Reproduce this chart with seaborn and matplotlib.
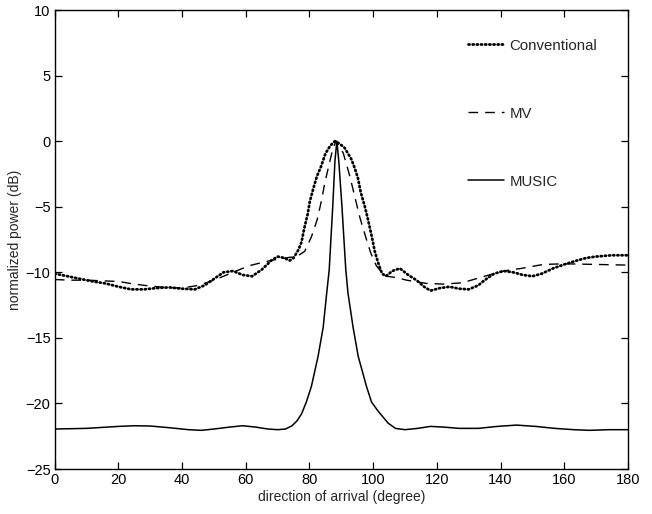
import numpy as np
import pandas as pd
import matplotlib
matplotlib.use("Agg")
import matplotlib.pyplot as plt
import seaborn as sns

# ---- data ----
conv_x = [0, 4, 8, 12, 16, 20, 24, 28, 32, 36, 40, 44, 47, 50, 53, 56, 59, 62, 65, 68, 70, 72,
          73.8, 75, 76.5, 77.5, 78.3, 79.4, 80.1, 81.1, 82.3, 83.6, 85, 86.5, 88, 89.5, 91, 92,
          93.2, 94.2, 95.2, 96.1, 97.4, 98.4, 99.5, 100.5, 101.6, 102.8, 104, 106, 108.4, 111,
          113.6, 116, 118, 121, 124, 127, 130, 133, 135, 138, 141, 144, 147, 150, 153, 156.5,
          160, 164, 167, 170, 175, 180]
conv_y = [-10.1, -10.3, -10.5, -10.7, -10.85, -11.1, -11.3, -11.3, -11.2, -11.15, -11.25, -11.3,
          -11.0, -10.5, -10.0, -9.9, -10.2, -10.3, -9.8, -9.1, -8.8, -8.9,
          -9.1, -8.9, -8.3, -7.7, -6.7, -5.6, -4.6, -3.7, -2.7, -1.95, -0.95, -0.35, 0.0, -0.2,
          -0.5, -0.9, -1.4, -2.05, -2.8, -3.9, -5.0, -6.0, -7.2, -8.4, -9.3, -10.1, -10.3, -9.9,
          -9.7, -10.2, -10.6, -11.1, -11.4, -11.2, -11.1, -11.25, -11.3, -11.0, -10.6, -10.1,
          -9.9, -10.0, -10.2, -10.3, -10.1, -9.7, -9.4, -9.1, -8.9, -8.8, -8.7, -8.7]

mv_x = [0, 5, 10, 15, 20, 25, 30, 35, 40, 45, 50, 55, 61, 66, 70, 74, 76, 78.5, 80.6, 82.4,
        83.8, 84.8, 85.9, 87.2, 88.3, 90.6, 92.7, 94.2, 95.8, 97.9, 99.2, 101, 102, 104.2, 107.3,
        110.5, 116.8, 122, 128, 135, 141, 146.6, 153.4, 160, 170, 180]
mv_y = [-10.55, -10.6, -10.6, -10.65, -10.7, -10.9, -11.05, -11.15, -11.2, -11.0, -10.6, -10.1,
        -9.5, -9.2, -9.0, -8.85, -8.8, -8.4, -7.3, -6.0,
        -4.5, -3.2, -2.05, -0.7, 0.0, -0.9, -2.7, -4.2, -5.8, -7.5, -8.5, -9.5, -9.8, -10.3, -10.4,
        -10.6, -10.85, -10.9, -10.8, -10.3, -9.9, -9.7, -9.4, -9.35, -9.4, -9.45]

music_x = [0, 10, 20, 25, 30, 36, 42, 46, 50, 55, 59, 63, 67, 70, 72.5, 74.5, 76, 77.5, 79,
           80.6, 82.7, 84.3, 85.4, 86.2, 87.3, 88.0, 88.6, 89.2, 90.2, 91.4, 92.1, 93.7, 95.3,
           97.9, 99.5, 101.6, 104.7, 107, 110, 114, 118, 122, 127, 133, 139, 145, 151, 157,
           163, 168, 174, 180]
music_y = [-21.95, -21.9, -21.75, -21.7, -21.72, -21.85, -22.0, -22.05, -21.95, -21.8, -21.7,
           -21.8, -21.95, -22.0, -21.95, -21.7, -21.35, -20.8, -19.9,
           -18.7, -16.4, -14.2, -11.6, -9.8, -5.0, -1.5, 0.0, -1.5, -5.0, -9.8, -11.6, -14.2,
           -16.4, -18.7, -19.9, -20.6, -21.5, -21.9, -22.0, -21.9, -21.75, -21.8, -21.9, -21.9,
           -21.75, -21.65, -21.75, -21.9, -22.0, -22.05, -22.0, -22.0]

labels = ["Conventional", "MV", "MUSIC"]
xticks = [0, 20, 40, 60, 80, 100, 120, 140, 160, 180]
yticks = [-25, -20, -15, -10, -5, 0, 5, 10]

# ---- figure ----
sns.set_style("ticks")
plt.rcParams["font.family"] = ["Liberation Sans", "DejaVu Sans"]

fig = plt.figure(figsize=(6.52, 5.14), dpi=100)
ax = fig.add_axes([0.084, 0.0875, 0.879, 0.893])

df_c = pd.DataFrame({"x": conv_x, "y": conv_y})
df_m = pd.DataFrame({"x": mv_x, "y": mv_y})
df_u = pd.DataFrame({"x": music_x, "y": music_y})

sns.lineplot(data=df_c, x="x", y="y", ax=ax, color="black", lw=2.0,
             linestyle=(0, (0.4, 1.1)), dash_capstyle="round", label=labels[0], sort=False)
sns.lineplot(data=df_m, x="x", y="y", ax=ax, color="black", lw=1.0,
             linestyle=(0, (7, 5)), label=labels[1], sort=False)
sns.lineplot(data=df_u, x="x", y="y", ax=ax, color="black", lw=1.1,
             label=labels[2], sort=False)

ax.set_xlim(0, 180)
ax.set_ylim(-25, 10)
ax.set_xticks(xticks)
ax.set_yticks(yticks)
ax.tick_params(direction="in", length=5, width=0.9, top=True, right=True,
               labelsize=10.5, colors="black", pad=3)
for s in ax.spines.values():
    s.set_linewidth(1.0)
    s.set_color("black")

ax.set_xlabel("direction of arrival (degree)", fontsize=10, labelpad=2)
ax.set_ylabel("normalized power (dB)", fontsize=10, labelpad=3)

leg = ax.legend(loc="upper right", bbox_to_anchor=(0.97, 0.967), frameon=False,
                fontsize=10.8, labelspacing=3.6, handlelength=2.4, handletextpad=0.35)

fig.savefig("out.png", dpi=100)
